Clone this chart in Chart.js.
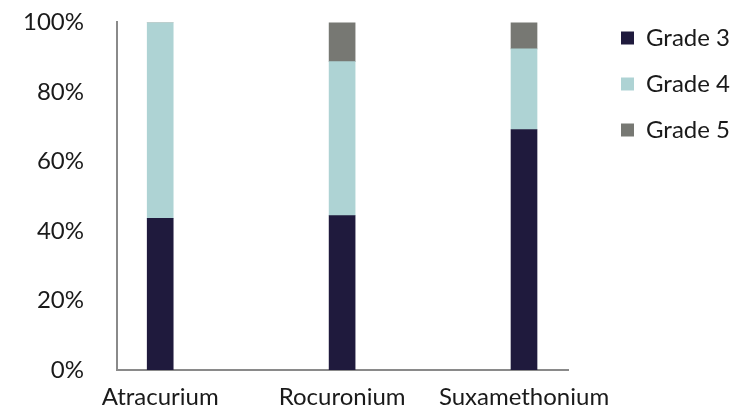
<!DOCTYPE html>
<html lang="en">
<head>
    <meta charset="UTF-8">
    <title>Grade by drug</title>
    <script src="https://cdn.jsdelivr.net/npm/chart.js"></script>
    <style>
        html, body { margin: 0; padding: 0; background: #fff; }
        #wrap { width: 753px; height: 409px; }
    </style>
</head>
<body>
    <div id="wrap"><canvas id="gradeChart"></canvas></div>

    <script>
        const categories = ['Atracurium', 'Rocuronium', 'Suxamethonium'];
        const grade3 = [43.6, 44.4, 69.2];
        const grade4 = [56.4, 44.3, 23.2];
        const grade5 = [0, 11.3, 7.6];
        const yTicks = [0, 20, 40, 60, 80, 100];

        const toPoints = arr => arr.map((v, i) => ({ x: i, y: v }));
        const font = { family: 'Lato', size: 24 };

        // legend box is a fixed width so the labels are not cut off
        const legendWidth = {
            id: 'legendWidth',
            beforeInit(chart) {
                const fit = chart.legend.fit;
                chart.legend.fit = function () {
                    fit.call(this);
                    this.width = 154;
                };
            }
        };

        new Chart(document.getElementById('gradeChart'), {
            type: 'bar',
            data: {
                datasets: [
                    { label: 'Grade 3', data: toPoints(grade3), backgroundColor: '#1f1a3d' },
                    { label: 'Grade 4', data: toPoints(grade4), backgroundColor: '#aed3d4' },
                    { label: 'Grade 5', data: toPoints(grade5), backgroundColor: '#777873' }
                ]
            },
            plugins: [legendWidth],
            options: {
                responsive: true,
                maintainAspectRatio: false,
                animation: false,
                layout: { padding: { top: 4, right: 0, left: 0, bottom: 0 } },
                datasets: { bar: { barThickness: 26 } },
                scales: {
                    x: {
                        type: 'linear',
                        stacked: true,
                        min: -0.2375,
                        max: 2.2418,
                        offset: false,
                        grid: { display: false, drawTicks: false },
                        border: { display: true, color: '#8a8a8a', width: 2 },
                        afterBuildTicks: s => { s.ticks = categories.map((c, i) => ({ value: i })); },
                        afterFit: s => { s.height = 39; },
                        ticks: {
                            font: font,
                            color: '#1a1a1a',
                            padding: 13,
                            maxRotation: 0,
                            autoSkip: false,
                            callback: v => categories[v]
                        }
                    },
                    y: {
                        stacked: true,
                        min: 0,
                        max: 100,
                        grid: { display: false, drawTicks: true, tickLength: 25 },
                        border: { display: true, color: '#8a8a8a', width: 2 },
                        afterBuildTicks: s => { s.ticks = yTicks.map(v => ({ value: v })); },
                        afterFit: s => { s.width = 117; },
                        ticks: {
                            font: font,
                            color: '#1a1a1a',
                            padding: 8,
                            callback: v => v + '%'
                        }
                    },
                    // empty space between the plot and the legend
                    gap: {
                        position: 'right',
                        display: true,
                        grid: { display: false, drawTicks: false },
                        border: { display: false },
                        ticks: { display: false },
                        afterFit: s => { s.width = 31; }
                    }
                },
                plugins: {
                    legend: {
                        position: 'right',
                        align: 'start',
                        labels: {
                            font: { family: 'Lato', size: 24 },
                            color: '#1a1a1a',
                            boxWidth: 13,
                            boxHeight: 13,
                            padding: 22
                        }
                    },
                    tooltip: { enabled: false }
                }
            }
        });
    </script>
</body>
</html>
